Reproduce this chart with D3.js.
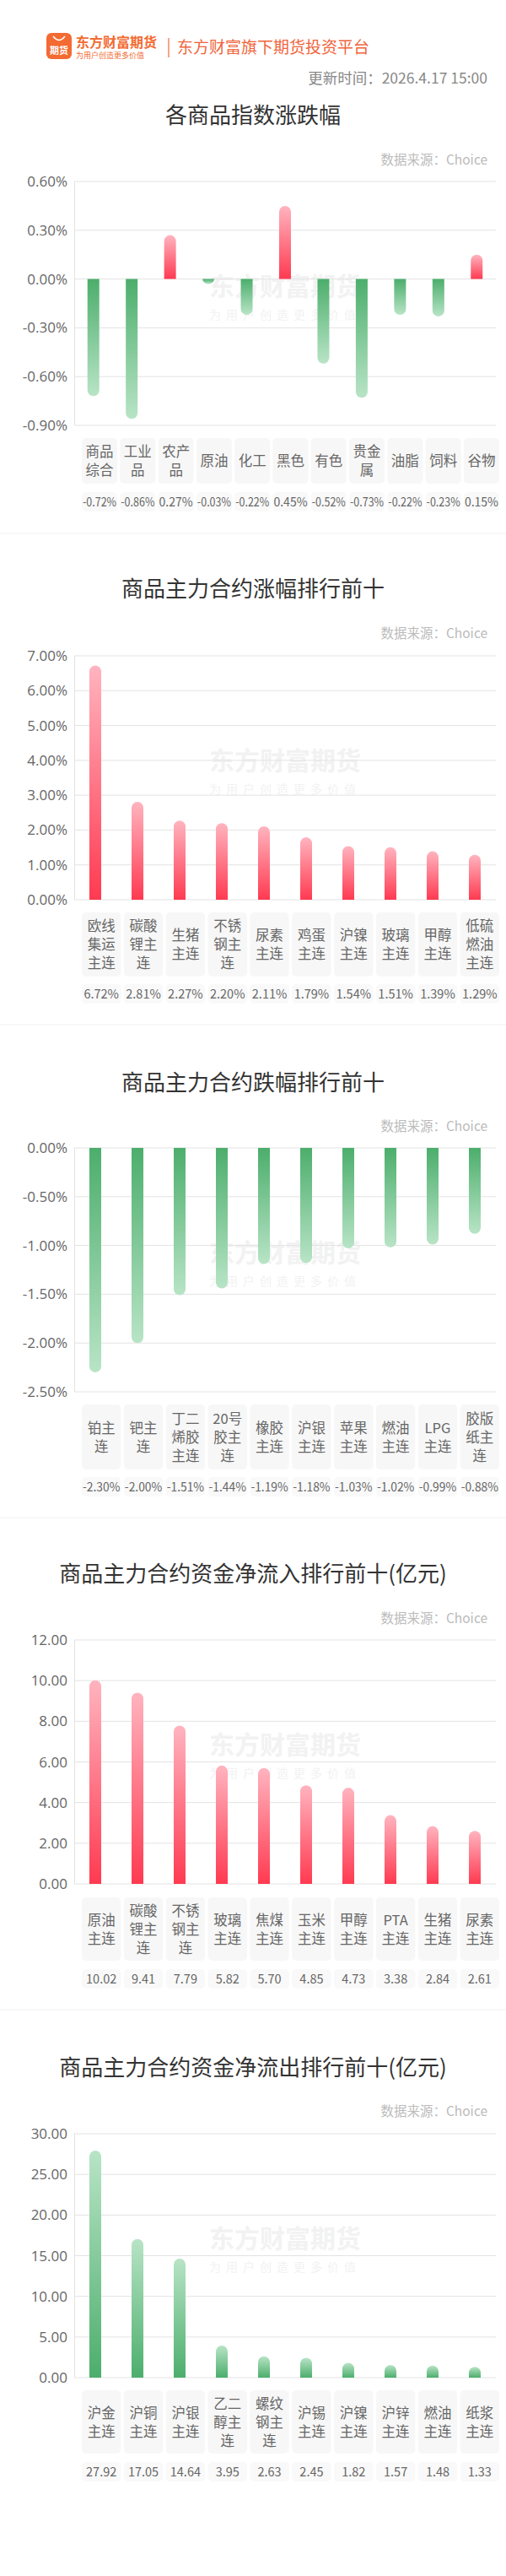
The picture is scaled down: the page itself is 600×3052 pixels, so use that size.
<!DOCTYPE html>
<html><head><meta charset="utf-8">
<script src="https://cdn.jsdelivr.net/npm/d3@7/dist/d3.min.js"></script>
<style>body{margin:0;background:#fff}svg{display:block;font-family:"Noto Sans CJK SC","Noto Sans",sans-serif}</style>
</head><body><svg id="c" width="600" height="3052"></svg>
<script>
// data
const indexNames = ["商品|综合","工业|品","农产|品","原油","化工","黑色","有色","贵金|属","油脂","饲料","谷物"];
const indexValues = [-0.72,-0.86,0.27,-0.03,-0.22,0.45,-0.52,-0.73,-0.22,-0.23,0.15];
const indexTicks = [0.6,0.3,0,-0.3,-0.6,-0.9];

const gainNames = ["欧线|集运|主连","碳酸|锂主|连","生猪|主连","不锈|钢主|连","尿素|主连","鸡蛋|主连","沪镍|主连","玻璃|主连","甲醇|主连","低硫|燃油|主连"];
const gainValues = [6.72,2.81,2.27,2.20,2.11,1.79,1.54,1.51,1.39,1.29];
const gainTicks = [0,1,2,3,4,5,6,7];

const lossNames = ["铂主|连","钯主|连","丁二|烯胶|主连","20号|胶主|连","橡胶|主连","沪银|主连","苹果|主连","燃油|主连","LPG|主连","胶版|纸主|连"];
const lossValues = [-2.30,-2.00,-1.51,-1.44,-1.19,-1.18,-1.03,-1.02,-0.99,-0.88];
const lossTicks = [0,-0.5,-1,-1.5,-2,-2.5];

const inflowNames = ["原油|主连","碳酸|锂主|连","不锈|钢主|连","玻璃|主连","焦煤|主连","玉米|主连","甲醇|主连","PTA|主连","生猪|主连","尿素|主连"];
const inflowValues = [10.02,9.41,7.79,5.82,5.70,4.85,4.73,3.38,2.84,2.61];
const inflowTicks = [0,2,4,6,8,10,12];

const outflowNames = ["沪金|主连","沪铜|主连","沪银|主连","乙二|醇主|连","螺纹|钢主|连","沪锡|主连","沪镍|主连","沪锌|主连","燃油|主连","纸浆|主连"];
const outflowValues = [27.92,17.05,14.64,3.95,2.63,2.45,1.82,1.57,1.48,1.33];
const outflowTicks = [0,5,10,15,20,25,30];

const svg = d3.select("#c");
const defs = svg.append("defs");
function grad(id, top, bottom) {
  const g = defs.append("linearGradient").attr("id", id).attr("x1",0).attr("y1",0).attr("x2",0).attr("y2",1);
  g.append("stop").attr("offset","0%").attr("stop-color",top);
  g.append("stop").attr("offset","100%").attr("stop-color",bottom);
}
grad("redUp", "#ffb4bf", "#ff3a51");
grad("greenDown", "#4cae6c", "#b8e4c6");
grad("greenUp", "#b8e4c6", "#4cae6c");

// header
svg.append("rect").attr("x",55).attr("y",39).attr("width",30).attr("height",31).attr("rx",6).attr("fill","#f36b32");
svg.append("text").attr("x",70).attr("y",64).attr("text-anchor","middle").attr("fill","#fff")
  .attr("font-size",11).attr("font-weight","bold").text("期货");
svg.append("path").attr("d","M63 43 Q70 52 77 43").attr("fill","none").attr("stroke","#fff").attr("stroke-width",1.5);
svg.append("text").attr("x",90).attr("y",56).attr("fill","#f36b32").attr("font-size",16).attr("font-weight","bold").text("东方财富期货");
svg.append("text").attr("x",90).attr("y",69).attr("fill","#f36b32").attr("font-size",9).text("为用户创造更多价值");
svg.append("line").attr("x1",200).attr("x2",200).attr("y1",45).attr("y2",68).attr("stroke","#f36b32").attr("stroke-width",1.2);
svg.append("text").attr("x",210).attr("y",63).attr("fill","#f0643c").attr("font-size",19).text("东方财富旗下期货投资平台");
svg.append("text").attr("x",578).attr("y",99).attr("text-anchor","end").attr("fill","#888").attr("font-size",17.5).text("更新时间：2026.4.17 15:00");

function barPath(x, w, y0, y1) {
  const r = w / 2, h = Math.abs(y1 - y0);
  if (h < 0.5) return "";
  const rr = Math.min(r, h);
  if (y1 < y0) {
    return `M${x},${y0} V${y1 + rr} A${r},${rr} 0 0 1 ${x + w},${y1 + rr} V${y0} Z`;
  }
  return `M${x},${y0} V${y1 - rr} A${r},${rr} 0 0 0 ${x + w},${y1 - rr} V${y0} Z`;
}

function drawChart(o) {
  const g = svg.append("g");
  if (o.divider) g.append("line").attr("x1",0).attr("x2",600).attr("y1",o.divider).attr("y2",o.divider).attr("stroke","#f0f0f0");
  g.append("text").attr("x",300).attr("y",o.titleY).attr("text-anchor","middle").attr("fill","#333").attr("font-size",26).text(o.title);
  g.append("text").attr("x",578).attr("y",o.sourceY).attr("text-anchor","end").attr("fill","#bbb").attr("font-size",15.5).text("数据来源：Choice");

  const y = d3.scaleLinear().domain(o.domain).range(o.range);
  const x = d3.scaleBand().domain(d3.range(o.values.length)).range([88, 588]);
  const bx = d3.scaleBand().domain(d3.range(o.values.length)).range([97, 592]).paddingInner(0.07);

  // watermark
  const mid = (o.range[0] + o.range[1]) / 2;
  g.append("text").attr("x",338).attr("y",mid - 10).attr("text-anchor","middle").attr("fill","#f2f2f2")
    .attr("font-size",30).attr("font-weight","bold").text("东方财富期货");
  g.append("text").attr("x",338).attr("y",mid + 18).attr("text-anchor","middle").attr("fill","#f2f2f2")
    .attr("font-size",14).attr("letter-spacing",6).text("为用户创造更多价值");

  g.append("g").selectAll("line").data(o.ticks).join("line")
    .attr("x1",88).attr("x2",588).attr("y1",d => y(d)).attr("y2",d => y(d))
    .attr("stroke","#e3e3e3").attr("stroke-width",1);
  g.append("line").attr("x1",88.5).attr("x2",88.5).attr("y1",o.range[1]).attr("y2",o.range[0]).attr("stroke","#e3e3e3");
  g.append("g").selectAll("text").data(o.ticks).join("text")
    .attr("x",80).attr("y",d => y(d) + 6).attr("text-anchor","end").attr("fill","#666").attr("font-size",17)
    .attr("font-family","'Open Sans',sans-serif").text(o.tickFmt);

  const bw = 14;
  g.append("g").selectAll("path").data(o.values).join("path")
    .attr("d",(d,i) => barPath(x(i) + x.bandwidth()/2 - bw/2, bw, y(0), y(d)))
    .attr("fill",d => o.fill ? `url(#${o.fill})` : (d >= 0 ? "url(#redUp)" : "url(#greenDown)"));

  // category boxes
  const cat = g.append("g").selectAll("g").data(o.names).join("g");
  cat.append("rect").attr("x",(d,i) => bx(i)).attr("y",o.catY[0]).attr("width",bx.bandwidth())
    .attr("height",o.catY[1] - o.catY[0]).attr("rx",5).attr("fill","#f7f7f7");
  cat.each(function(d, i) {
    const lines = d.split("|");
    const lh = 22, cy = (o.catY[0] + o.catY[1]) / 2;
    d3.select(this).selectAll("text").data(lines).join("text")
      .attr("x",bx(i) + bx.bandwidth()/2)
      .attr("y",(l,k) => cy + (k - (lines.length - 1) / 2) * lh + 6)
      .attr("text-anchor","middle").attr("fill","#666").attr("font-size",16.5).text(l => l);
  });

  const val = g.append("g").selectAll("g").data(o.values).join("g");
  val.append("rect").attr("x",(d,i) => bx(i)).attr("y",o.valY[0]).attr("width",bx.bandwidth())
    .attr("height",o.valY[1] - o.valY[0]).attr("rx",5).attr("fill","#f9f9f9");
  val.append("text").attr("x",(d,i) => bx(i) + bx.bandwidth()/2).attr("y",(o.valY[0] + o.valY[1]) / 2 + 5)
    .attr("text-anchor","middle").attr("fill","#666").attr("font-size",14.5).text(o.valFmt)
    .each(function() {
      const w = this.getComputedTextLength();
      if (w > bx.bandwidth() - 2) d3.select(this).attr("textLength",bx.bandwidth() - 2).attr("lengthAdjust","spacingAndGlyphs");
    });
}

const pct = d => d.toFixed(2) + "%";
const num = d => d.toFixed(2);

drawChart({title:"各商品指数涨跌幅", titleY:146, sourceY:195, names:indexNames, values:indexValues, ticks:indexTicks,
  domain:[0.6,-0.9], range:[215,504], tickFmt:pct, valFmt:pct, catY:[519,573], valY:[583,606]});
drawChart({divider:632, title:"商品主力合约涨幅排行前十", titleY:707, sourceY:756, names:gainNames, values:gainValues, ticks:gainTicks,
  domain:[7,0], range:[777,1066], tickFmt:pct, valFmt:pct, catY:[1081,1157], valY:[1166,1189]});
drawChart({divider:1214, title:"商品主力合约跌幅排行前十", titleY:1292, sourceY:1340, names:lossNames, values:lossValues, ticks:lossTicks,
  domain:[0,-2.5], range:[1360,1649], tickFmt:pct, valFmt:pct, catY:[1664,1741], valY:[1750,1773]});
drawChart({divider:1798, title:"商品主力合约资金净流入排行前十(亿元)", titleY:1874, sourceY:1923, names:inflowNames, values:inflowValues, ticks:inflowTicks,
  domain:[12,0], range:[1943,2232], tickFmt:num, valFmt:num, catY:[2248,2323], valY:[2333,2356]});
drawChart({divider:2381, title:"商品主力合约资金净流出排行前十(亿元)", titleY:2459, sourceY:2507, names:outflowNames, values:outflowValues, ticks:outflowTicks,
  domain:[30,0], range:[2528,2817], tickFmt:num, valFmt:num, fill:"greenUp", catY:[2832,2907], valY:[2917,2940]});
</script></body></html>
